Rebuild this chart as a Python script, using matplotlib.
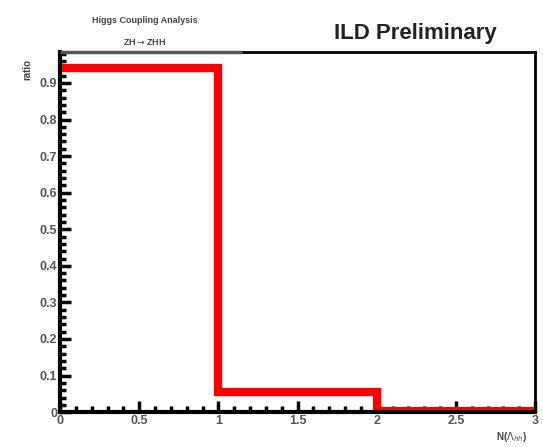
import matplotlib
matplotlib.use("Agg")
from matplotlib import pyplot as plt
from matplotlib.ticker import MultipleLocator
import numpy as np

# histogram contents
bin_edges = [0, 1, 2, 3]
ratio = [0.94, 0.055, 0.002]

plt.rcParams['font.family'] = ['Liberation Sans', 'DejaVu Sans']

fig = plt.figure(figsize=(5.43, 4.47), dpi=100)
ax = fig.add_axes([0.1105, 0.078, 0.875, 0.806])

# ROOT-like outline histogram
xs = np.repeat(bin_edges, 2)[1:-1]
ys = np.repeat(ratio, 2)
ax.plot(np.r_[0, xs], np.r_[ratio[0], ys], color='#ff0000', lw=6, solid_joinstyle='miter')

ax.set_xlim(0, 3)
ax.set_ylim(0, 0.985)
ax.xaxis.set_minor_locator(MultipleLocator(0.1))
ax.yaxis.set_minor_locator(MultipleLocator(0.02))
ax.set_xticks([0, 0.5, 1, 1.5, 2, 2.5, 3])
ax.set_xticklabels(['0', '0.5', '1', '1.5', '2', '2.5', '3'])
ax.set_yticks(np.arange(0, 0.95, 0.1))
ax.set_yticklabels(['0', '0.1', '0.2', '0.3', '0.4', '0.5', '0.6', '0.7', '0.8', '0.9'])
ax.tick_params(which='both', direction='in', width=2.5, color='black',
               labelsize=9, labelcolor='#555555', pad=2)
ax.tick_params(which='major', length=8)
ax.tick_params(which='minor', length=4)
for lbl in ax.get_xticklabels() + ax.get_yticklabels():
    lbl.set_fontweight('bold')
for s in ['left', 'bottom']:
    ax.spines[s].set_linewidth(3)
for s in ['right', 'top']:
    ax.spines[s].set_linewidth(2)
# title box edge makes the left part of the top frame look grey
ax.plot([0, 1.15], [0.985, 0.985], color='#555555', lw=2.5, clip_on=False,
        solid_capstyle='butt', zorder=5)

ax.set_ylabel('ratio', fontsize=7, fontweight='bold', color='#444444')
ax.yaxis.set_label_coords(-0.058, 0.95)
ax.set_xlabel(r'N($\Lambda_{hh}$)', fontsize=7, fontweight='bold', color='#444444')
ax.xaxis.set_label_coords(0.95, -0.05)

fig.text(0.267, 0.955, 'Higgs Coupling Analysis', fontsize=6.5, fontweight='bold',
         color='#444444', ha='center', va='center')
fig.text(0.267, 0.905, r'ZH$\rightarrow$ZHH', fontsize=6.5, fontweight='bold',
         color='#444444', ha='center', va='center')
fig.text(0.765, 0.925, 'ILD Preliminary', fontsize=16, fontweight='bold',
         color='#222222', ha='center', va='center')

fig.savefig('out.png', dpi=100)
